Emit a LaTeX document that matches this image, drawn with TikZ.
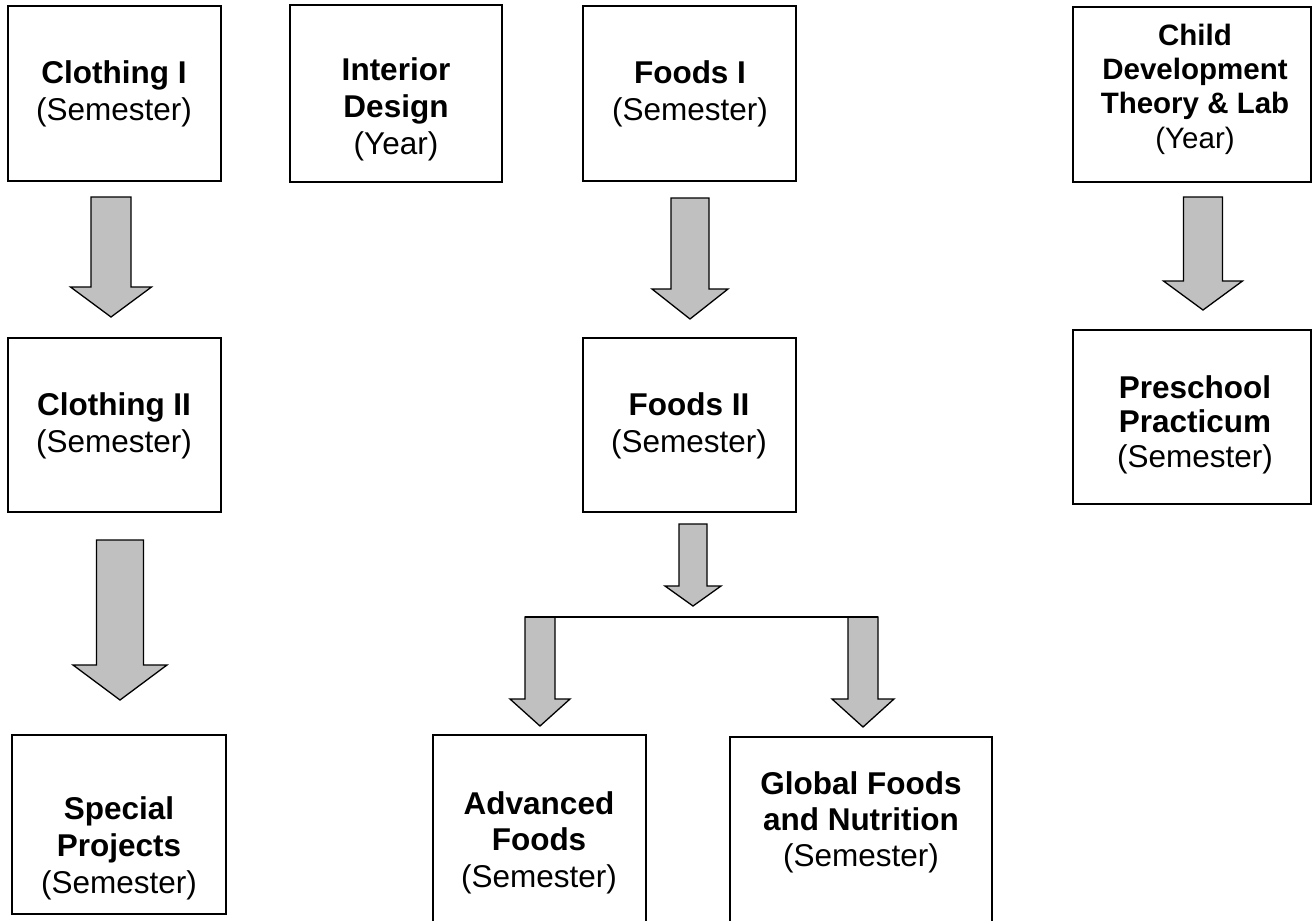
\documentclass[tikz,border=0pt]{standalone}
\usepackage{fontspec}
\setmainfont{Liberation Sans}
\definecolor{arrowgray}{HTML}{C0C0C0}
\newcommand\blockarr[6]{% cx, half shaft, top, head y, half head, tip y
  \draw[barrow] ({#1-#2},#3) -- ({#1+#2},#3) -- ({#1+#2},#4) -- ({#1+#5},#4)
    -- (#1,#6) -- ({#1-#5},#4) -- ({#1-#2},#4) -- cycle;}
\begin{document}
\begin{tikzpicture}[x=1pt,y=-1pt,
  box/.style={draw=black,line width=1.8pt,fill=white,inner sep=0pt},
  lbl/.style={anchor=base,inner sep=0pt,font=\fontsize{31.5}{37}\selectfont},
  slbl/.style={anchor=base,inner sep=0pt,font=\fontsize{29.5}{34}\selectfont},
  barrow/.style={draw=black,line width=1.3pt,fill=arrowgray,line join=miter}]
\useasboundingbox (0,0) rectangle (1312,921);

% boxes
\node[box,minimum width=213pt,minimum height=175pt] (c1) at (114.5,93.5) {};
\node[box,minimum width=212pt,minimum height=177pt] (id) at (396,93.5) {};
\node[box,minimum width=213pt,minimum height=175pt] (f1) at (689.5,93.5) {};
\node[box,minimum width=238pt,minimum height=175pt] (cd) at (1192,94.5) {};
\node[box,minimum width=213pt,minimum height=174pt] (c2) at (114.5,425) {};
\node[box,minimum width=213pt,minimum height=174pt] (f2) at (689.5,425) {};
\node[box,minimum width=238pt,minimum height=174pt] (pp) at (1192,417) {};
\node[box,minimum width=214pt,minimum height=179pt] (sp) at (119,824.5) {};
\node[box,minimum width=213pt,minimum height=205pt] (af) at (539.5,837.5) {};
\node[box,minimum width=262pt,minimum height=203pt] (gf) at (861,838.5) {};

% labels
\node[lbl] (c1a) at (114,83) {\textbf{Clothing I}};
\node[lbl] (c1b) at (114,120) {(Semester)};
\node[lbl] (ida) at (396,80) {\textbf{Interior}};
\node[lbl] (idb) at (396,117) {\textbf{Design}};
\node[lbl] (idc) at (396,154) {(Year)};
\node[lbl] (f1a) at (690,83) {\textbf{Foods I}};
\node[lbl] (f1b) at (690,120) {(Semester)};
\node[slbl] (cda) at (1195,45) {\textbf{Child}};
\node[slbl] (cdb) at (1195,79) {\textbf{Development}};
\node[slbl] (cdc) at (1195,113) {\textbf{Theory \& Lab}};
\node[slbl] (cdd) at (1195,148) {(Year)};
\node[lbl] (c2a) at (114,415) {\textbf{Clothing II}};
\node[lbl] (c2b) at (114,452) {(Semester)};
\node[lbl] (f2a) at (689,415) {\textbf{Foods II}};
\node[lbl] (f2b) at (689,452) {(Semester)};
\node[lbl] (ppa) at (1195,398) {\textbf{Preschool}};
\node[lbl] (ppb) at (1195,432) {\textbf{Practicum}};
\node[lbl] (ppc) at (1195,467) {(Semester)};
\node[lbl] (spa) at (119,819) {\textbf{Special}};
\node[lbl] (spb) at (119,856) {\textbf{Projects}};
\node[lbl] (spc) at (119,893) {(Semester)};
\node[lbl] (afa) at (539,814) {\textbf{Advanced}};
\node[lbl] (afb) at (539,850) {\textbf{Foods}};
\node[lbl] (afc) at (539,887) {(Semester)};
\node[lbl] (gfa) at (861,794) {\textbf{Global Foods}};
\node[lbl] (gfb) at (861,830) {\textbf{and Nutrition}};
\node[lbl] (gfc) at (861,866) {(Semester)};

% block arrows
\blockarr{111}{20}{197}{287}{40.5}{317}
\blockarr{690}{19}{198}{289}{38}{319}
\blockarr{1203}{19.5}{197}{281}{39.5}{310}
\blockarr{120}{23.5}{540}{665}{47}{700}
\blockarr{693}{14}{524}{586}{28}{606}
\blockarr{540}{15}{617}{699}{30}{726}
\blockarr{863}{15}{617}{699}{31}{727}
\coordinate (splitL) at (525,617);
\coordinate (splitR) at (878,617);
\draw[line width=1.3pt] (splitL) -- (splitR);
\end{tikzpicture}
\end{document}
